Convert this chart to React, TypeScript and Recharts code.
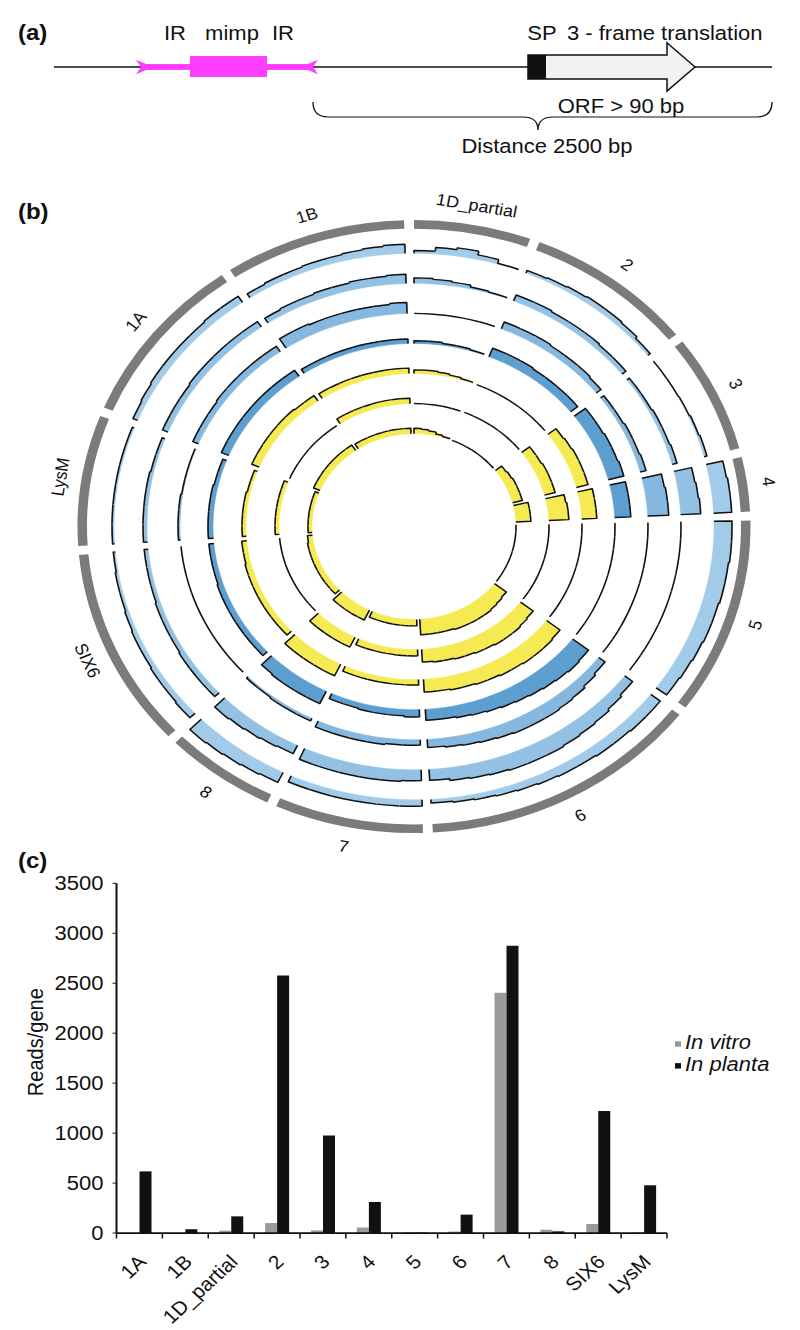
import React from "react";
import { PieChart, Pie, Sector, BarChart, Bar, XAxis, YAxis, Legend } from "recharts";

const FONT = '"Liberation Sans", Arial, Helvetica, sans-serif';
const SQUASH = 0.911; // the whole figure is a bit flattened vertically

// ---------- (c) reads per gene ----------
const genes = ["1A", "1B", "1D_partial", "2", "3", "4", "5", "6", "7", "8", "SIX6", "LysM"];
const inVitro = [0, 0, 24, 100, 27, 55, 8, 15, 2405, 33, 90, 6];
const inPlanta = [617, 38, 167, 2578, 977, 311, 5, 184, 2874, 17, 1221, 478];
const readTicks = [0, 500, 1000, 1500, 2000, 2500, 3000, 3500];

// ---------- (b) circos ----------
const segNames = ["1D_partial", "2", "3", "4", "5", "6", "7", "8", "SIX6", "LysM", "1A", "1B"];
const segSizes = [20.2, 29.3, 22.3, 10.3, 37.3, 48.9, 25.7, 19.3, 37.8, 24.8, 32.3, 31.45];
const SEG_GAP = 1.7;

// coverage profiles, one list per segment (segNames order), outer track first
const track1 = [
  [3, 7, 9, 5, 1],
  [3, 4, 5, 6, 6, 5, 3],
  [0.5, 0.5, 1, 2, 3],
  [17, 18, 18],
  [18, 18, 17, 17, 16, 16, 15, 14, 13],
  [12, 12, 11, 11, 10, 10, 9, 8, 7, 6, 5, 4],
  [7, 7, 7, 7, 7, 7],
  [12, 13, 14, 15, 16],
  [7, 6, 6, 5, 5, 4, 3, 3, 2],
  [2, 2, 2, 2, 2, 2],
  [5, 6, 7, 7, 7, 7, 8, 8],
  [5, 6, 6, 7, 7, 8, 9, 10],
];
const track2 = [
  [6, 5, 4, 2, 1],
  [7, 7, 6, 6, 6, 5, 5],
  [3, 3, 4, 4, 5],
  [18, 19, 20],
  [0, 0, 0, 0, 0, 0, 0, 0, 0],
  [10, 12, 14, 15, 16, 17, 17, 17, 16, 15, 14, 12],
  [12, 13, 13, 13, 13, 13],
  [10, 11, 12, 13, 14],
  [6, 6, 6, 5, 5, 5, 4, 4, 4],
  [4, 4, 4, 4, 3, 3],
  [6, 6, 6, 7, 7, 7, 7, 7],
  [6, 7, 7, 8, 8, 9, 9, 10],
];
const track3 = [
  [0, 0, 0, 0, 0],
  [8, 8, 8, 7, 7, 7, 6],
  [4, 4, 5, 5, 6],
  [20, 21, 21],
  [0, 0, 0, 0, 0, 0, 0, 0, 0],
  [8, 10, 12, 13, 14, 14, 14, 13, 12, 11, 10, 9],
  [6, 6, 7, 7, 7, 7],
  [3, 3, 3, 2, 2],
  [0, 0, 0, 0, 0, 0, 0, 0, 0],
  [2, 2, 2, 1, 1, 1],
  [6, 6, 6, 7, 7, 7, 7, 7],
  [12, 12, 11, 11, 11, 11, 11, 12],
];
const track4 = [
  [3, 3, 2, 2, 1],
  [10, 10, 10, 9, 9, 9, 9],
  [14, 14, 15, 15, 16],
  [16, 16, 16],
  [0, 0, 0, 0, 0, 0, 0, 0, 0],
  [20, 21, 20, 19, 18, 17, 16, 15, 14, 13, 12, 12],
  [8, 7, 7, 7, 6, 6],
  [15, 15, 15, 15, 14],
  [6, 6, 6, 6, 6, 6, 5, 5, 5],
  [5, 5, 5, 5, 4, 4],
  [8, 8, 8, 8, 8, 8, 8, 8],
  [5, 5, 5, 5, 5, 5, 5, 5],
];
const track5 = [
  [4, 4, 3, 2, 1],
  [0, 0, 0, 0, 0, 0, 0],
  [10, 11, 12, 12, 12],
  [15, 15, 15],
  [0, 0, 0, 0, 0, 0, 0, 0, 0],
  [17, 18, 18, 18, 17, 17, 16, 16, 15, 15, 14, 14],
  [6, 6, 6, 6, 6, 6],
  [14, 14, 14, 14, 14],
  [6, 6, 6, 6, 6, 6, 6, 5, 5],
  [4, 4, 4, 4, 3, 3],
  [8, 8, 8, 8, 8, 8, 7, 7],
  [6, 6, 6, 6, 6, 6, 6, 6],
];
const track6 = [
  [0, 0, 0, 0, 0],
  [0, 0, 0, 0, 0, 0, 0],
  [10, 10, 11, 11, 11],
  [19, 20, 20],
  [0, 0, 0, 0, 0, 0, 0, 0, 0],
  [16, 17, 18, 18, 18, 17, 17, 16, 16, 15, 15, 14],
  [7, 7, 7, 7, 7, 7],
  [12, 12, 12, 12, 12],
  [0, 0, 0, 0, 0, 0, 0, 0, 0],
  [4, 4, 4, 4, 4, 4],
  [0, 0, 0, 0, 0, 0, 0, 0],
  [6, 6, 6, 6, 6, 6, 6, 6],
];
const track7 = [
  [6, 5, 4, 2, 1],
  [0, 0, 0, 0, 0, 0, 0],
  [8, 9, 10, 10, 10],
  [15, 15, 15],
  [0, 0, 0, 0, 0, 0, 0, 0, 0],
  [15, 16, 17, 18, 18, 18, 18, 18, 17, 17, 17, 17],
  [7, 7, 7, 7, 7, 7],
  [12, 12, 12, 12, 12],
  [6, 6, 6, 6, 6, 6, 6, 6, 5],
  [4, 4, 4, 4, 4, 4],
  [7, 7, 7, 7, 7, 7, 7, 7],
  [6, 6, 6, 6, 6, 6, 6, 6],
];

const tracks = [track1, track2, track3, track4, track5, track6, track7];
const trackBase = [300, 267, 234, 201, 168, 135, 102];
const trackColors = ["#a2cbe9", "#93c1e4", "#86b8df", "#5d9ed0", "#f6ea52", "#f6ea52", "#f6ea52"];
const HMAX = 25;

const RAD = Math.PI / 180;
const polar = (cx: number, cy: number, r: number, a: number) => [
  cx + r * Math.cos(-a * RAD),
  cy + r * Math.sin(-a * RAD),
];

function trackRows(cov: number[][]) {
  const rows: any[] = [];
  cov.forEach((bins, s) => {
    bins.forEach((h, j) => {
      rows.push({
        size: segSizes[s] / bins.length,
        h,
        prev: j > 0 ? bins[j - 1] : 0,
        last: j === bins.length - 1,
      });
    });
    rows.push({ size: SEG_GAP, gap: true });
  });
  return rows;
}

// draws one bin of a coverage track: fill from baseline + stepped black profile
function binShape(p: any, color: string) {
  const d = p.payload || p;
  if (d.gap) return null;
  const { cx, cy, innerRadius, outerRadius, startAngle, endAngle } = p;
  const k = (outerRadius - innerRadius) / HMAX;
  const r = innerRadius + d.h * k;
  const rp = innerRadius + d.prev * k;
  const [x0, y0] = polar(cx, cy, rp, startAngle);
  const [x1, y1] = polar(cx, cy, r, startAngle);
  const [x2, y2] = polar(cx, cy, r, endAngle);
  let path = `M${x0},${y0}L${x1},${y1}A${r},${r} 0 0 1 ${x2},${y2}`;
  if (d.last) {
    const [x3, y3] = polar(cx, cy, innerRadius, endAngle);
    path += `L${x3},${y3}`;
  }
  return (
    <g>
      {d.h > 0 && (
        <Sector
          cx={cx}
          cy={cy}
          innerRadius={innerRadius}
          outerRadius={r}
          startAngle={startAngle}
          endAngle={endAngle}
          fill={color}
          stroke={color}
          strokeWidth={0.6}
        />
      )}
      <path d={path} fill="none" stroke="#111" strokeWidth={1.6} strokeLinejoin="round" />
    </g>
  );
}

function segLabel(p: any) {
  const { cx, cy, midAngle, index } = p;
  const theta = (((90 - midAngle) % 360) + 360) % 360;
  let rot = theta;
  if (theta > 90 && theta < 270) rot = theta - 180;
  else if (theta >= 270) rot = theta - 360;
  const [x, y] = polar(cx, cy, 358, midAngle);
  return (
    <text
      x={x}
      y={y}
      textAnchor="middle"
      dominantBaseline="central"
      transform={`rotate(${rot} ${x} ${y})`}
      fontSize={18}
      fontFamily={FONT}
      fill="#111"
    >
      {segNames[index]}
    </text>
  );
}

function Circos() {
  const ring = segNames.map((name, i) => ({ name, size: segSizes[i] }));
  return (
    <PieChart width={800} height={800} margin={{ top: 0, right: 0, bottom: 0, left: 0 }}>
      <Pie
        data={ring}
        dataKey="size"
        cx={400}
        cy={400}
        innerRadius={327}
        outerRadius={336.5}
        startAngle={90}
        endAngle={-270}
        paddingAngle={SEG_GAP}
        fill="#7b7b7b"
        stroke="none"
        label={segLabel}
        labelLine={false}
        isAnimationActive={false}
      />
      {tracks.map((cov, t) => (
        <Pie
          key={t}
          data={trackRows(cov)}
          dataKey="size"
          cx={400}
          cy={400}
          innerRadius={trackBase[t]}
          outerRadius={trackBase[t] + HMAX}
          startAngle={90}
          endAngle={-270}
          paddingAngle={0}
          fill="none"
          stroke="none"
          label={(p: any) => binShape(p, trackColors[t])}
          labelLine={false}
          isAnimationActive={false}
        />
      ))}
    </PieChart>
  );
}

// ---------- (c) ----------
const GeneTick = (p: any) => {
  const { x, y, payload, index } = p;
  const band = p.width ? p.width / genes.length : 45.875;
  const half = band / 2;
  const ax = x + 8;
  const ay = y + 33;
  return (
    <g>
      <line x1={x - half} x2={x - half} y1={y} y2={y + 6} stroke="#111" strokeWidth={1.5} />
      {index === genes.length - 1 && (
        <line x1={x + half} x2={x + half} y1={y} y2={y + 6} stroke="#111" strokeWidth={1.5} />
      )}
      <text
        x={ax}
        y={ay}
        textAnchor="end"
        transform={`rotate(-45 ${ax} ${ay})`}
        fontSize={21}
        fontFamily={FONT}
        fill="#111"
      >
        {payload.value}
      </text>
    </g>
  );
};

const ReadsLabel = () => (
  <text
    x={35}
    y={204}
    textAnchor="middle"
    dominantBaseline="central"
    transform="rotate(-90 35 204)"
    fontSize={22}
    fontFamily={FONT}
    fill="#111"
  >
    Reads/gene
  </text>
);

const LegendBox = () => (
  <div style={{ fontFamily: FONT, fontSize: 22, fontStyle: "italic", color: "#111" }}>
    {[
      { name: "In vitro", color: "#9a9a9a" },
      { name: "In planta", color: "#111" },
    ].map((d) => (
      <div key={d.name} style={{ height: 24, lineHeight: "24px", whiteSpace: "nowrap" }}>
        <span
          style={{
            display: "inline-block",
            width: 6,
            height: 6,
            background: d.color,
            marginRight: 4,
            verticalAlign: "middle",
          }}
        />
        {d.name}
      </div>
    ))}
  </div>
);

function ReadsChart() {
  const rows = genes.map((g, i) => ({ gene: g, vitro: inVitro[i], planta: inPlanta[i] }));
  return (
    <BarChart
      width={800}
      height={520}
      data={rows}
      margin={{ top: 29.6, right: 133, bottom: 16.5, left: 0 }}
      barGap={0}
      barSize={12}
    >
      <XAxis
        dataKey="gene"
        interval={0}
        height={90}
        tickLine={false}
        tickSize={0}
        tickMargin={0}
        axisLine={{ stroke: "#111", strokeWidth: 2 }}
        tick={GeneTick}
      />
      <YAxis
        width={116.5}
        domain={[0, 3500]}
        ticks={readTicks}
        interval={0}
        tickSize={4}
        tickMargin={9}
        axisLine={{ stroke: "#111", strokeWidth: 2 }}
        tickLine={{ stroke: "#111" }}
        tick={{ fontSize: 22, fill: "#111", fontFamily: FONT }}
        label={{ content: ReadsLabel }}
      />
      <Legend
        layout="horizontal"
        align="center"
        verticalAlign="middle"
        content={LegendBox}
        wrapperStyle={{ left: 675, top: 193, width: 125 }}
      />
      <Bar dataKey="vitro" name="In vitro" fill="#9a9a9a" isAnimationActive={false} />
      <Bar dataKey="planta" name="In planta" fill="#111" isAnimationActive={false} />
    </BarChart>
  );
}

// ---------- (a) schematic ----------
function Schematic() {
  const pink = "#ff3dff";
  const txt = { fontSize: 22, fontFamily: FONT, fill: "#111" } as any;
  return (
    <svg width={800} height={180} style={{ position: "absolute", left: 0, top: 0 }}>
      <line x1={54} x2={772} y1={73.5} y2={73.5} stroke="#111" strokeWidth={1.5} />
      <rect x={141} y={70.3} width={172} height={6.5} fill={pink} />
      <polygon points="136,65.5 146,70.3 146,76.8 136,81.5 141,73.5" fill={pink} />
      <polygon points="318,65.5 308,70.3 308,76.8 318,81.5 313,73.5" fill={pink} />
      <rect x={190} y={61.5} width={77} height={23} fill={pink} />
      <polygon
        points="528,60.4 667,60.4 667,47 695,73.5 667,100 667,86.7 528,86.7"
        fill="#f2f2f2"
        stroke="#111"
        strokeWidth={1.5}
      />
      <rect x={528} y={60.4} width={18} height={26.3} fill="#111" />
      <text {...txt} x={175} y={44} textAnchor="middle">IR</text>
      <text {...txt} x={232} y={44} textAnchor="middle">mimp</text>
      <text {...txt} x={283} y={44} textAnchor="middle">IR</text>
      <text {...txt} x={542} y={44} textAnchor="middle">SP</text>
      <text {...txt} x={567} y={44}>3 - frame translation</text>
      <text {...txt} x={621} y={124} textAnchor="middle">ORF &gt; 90 bp</text>
      <path
        d="M313,112 Q313,128.4 328,128.4 L523,128.4 Q538,128.4 538,142.7 Q538,128.4 553,128.4 L757,128.4 Q772,128.4 772,112"
        fill="none"
        stroke="#111"
        strokeWidth={1.3}
      />
      <text {...txt} x={547} y={168} textAnchor="middle">Distance 2500 bp</text>
    </svg>
  );
}

export default function App() {
  const panel = { fontSize: 24, fontWeight: 700, fontFamily: FONT, fill: "#111" } as any;
  return (
    <div
      style={{
        position: "absolute",
        left: 0,
        top: 0,
        width: 800,
        height: 1460,
        transform: `scaleY(${SQUASH})`,
        transformOrigin: "0 0",
        background: "#fff",
      }}
    >
      <svg width={800} height={1460} style={{ position: "absolute", left: 0, top: 0 }}>
        <text {...panel} x={18} y={44}>(a)</text>
        <text {...panel} x={18} y={240}>(b)</text>
        <text {...panel} x={18} y={953}>(c)</text>
      </svg>
      <Schematic />
      <div style={{ position: "absolute", left: 13.5, top: 178, width: 800, height: 800 }}>
        <Circos />
      </div>
      <div style={{ position: "absolute", left: 0, top: 940, width: 800, height: 520 }}>
        <ReadsChart />
      </div>
    </div>
  );
}
